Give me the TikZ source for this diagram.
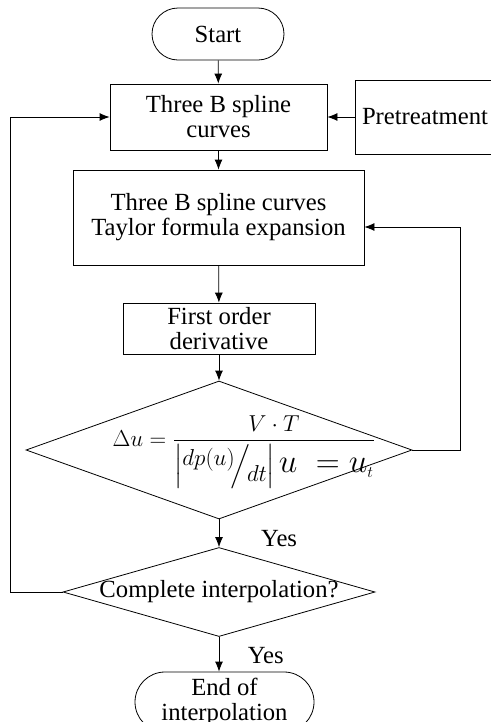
\documentclass[tikz,border=0pt]{standalone}
\usepackage{amsmath,amssymb}
\usepackage{fontspec}
\setmainfont{Liberation Serif}
\usetikzlibrary{shapes.geometric,shapes.misc,arrows.meta}

\begin{document}
\begin{tikzpicture}[>={Latex[length=7.5pt,width=6pt]}, x=0.75pt, y=-0.75pt,
  line width=0.6pt,
  font=\fontsize{18.5}{18.75}\selectfont,
  term/.style={draw, rounded rectangle, align=center, inner sep=0pt},
  block/.style={draw, align=center, inner sep=0pt},
  decide/.style={draw, diamond, inner sep=0pt}]
  \useasboundingbox (0,0) rectangle (490,722);

  \node[term, minimum width=99pt, minimum height=39pt] (start) at (218,34) {Start};
  \node[block, minimum width=162.75pt, minimum height=49.5pt] (spline) at (218.5,117) {Three B spline\\curves};
  \node[block, minimum width=108.75pt, minimum height=55.5pt, inner xsep=5.25pt,
        text width=98.25pt, align=left] (pre) at (427.5,117) {Pretreatment};
  \node[block, minimum width=218.25pt, minimum height=71.25pt] (taylor) at (218.5,217.5) {Three B spline curves\\Taylor formula expansion};
  \node[block, minimum width=144pt, minimum height=38.25pt] (deriv) at (219,328.5) {First order\\derivative};
  \node[decide, minimum width=289.5pt, minimum height=103.5pt] (check) at (219,450) {};
  \node (dudef) at (244,452) {$\Delta u=\dfrac{V\cdot T}{\left|\raisebox{5pt}{\mbox{\fontsize{18}{18}\selectfont$dp(u)$}}\!\Big/\!\raisebox{-7pt}{$dt$}\right|\mbox{\fontsize{24}{24}\selectfont$u\;=u_{\scriptscriptstyle t}$}}$};
  \node[decide, minimum width=234pt, minimum height=66.75pt] (done) at (219,592) {};
  \node (donetxt) at (219,592) {Complete interpolation?};
  \node[term, minimum width=134.25pt, minimum height=45pt] (finish) at (224.5,702) {End of\\interpolation};

  % main flow
  \draw[->] (start) -- (spline);
  \draw[->] (pre) -- (spline);
  \draw[->] (spline) -- (taylor);
  \draw[->] (taylor) -- (deriv);
  \draw[->] (deriv) -- (check);
  \draw[->] (check) -- node[pos=0.7, right=28pt] {Yes} (done);
  \draw[->] (done.south) -- node[pos=0.55, right=18pt] {Yes} (done.south |- finish.north);

  % loops back
  \coordinate (fb) at (460,227);
  \draw[->] (check.east) -| (fb) -- (fb -| taylor.east);
  \coordinate (back) at (10,592);
  \draw[->] (done.west) -- (back) |- (spline.west);
\end{tikzpicture}
\end{document}
